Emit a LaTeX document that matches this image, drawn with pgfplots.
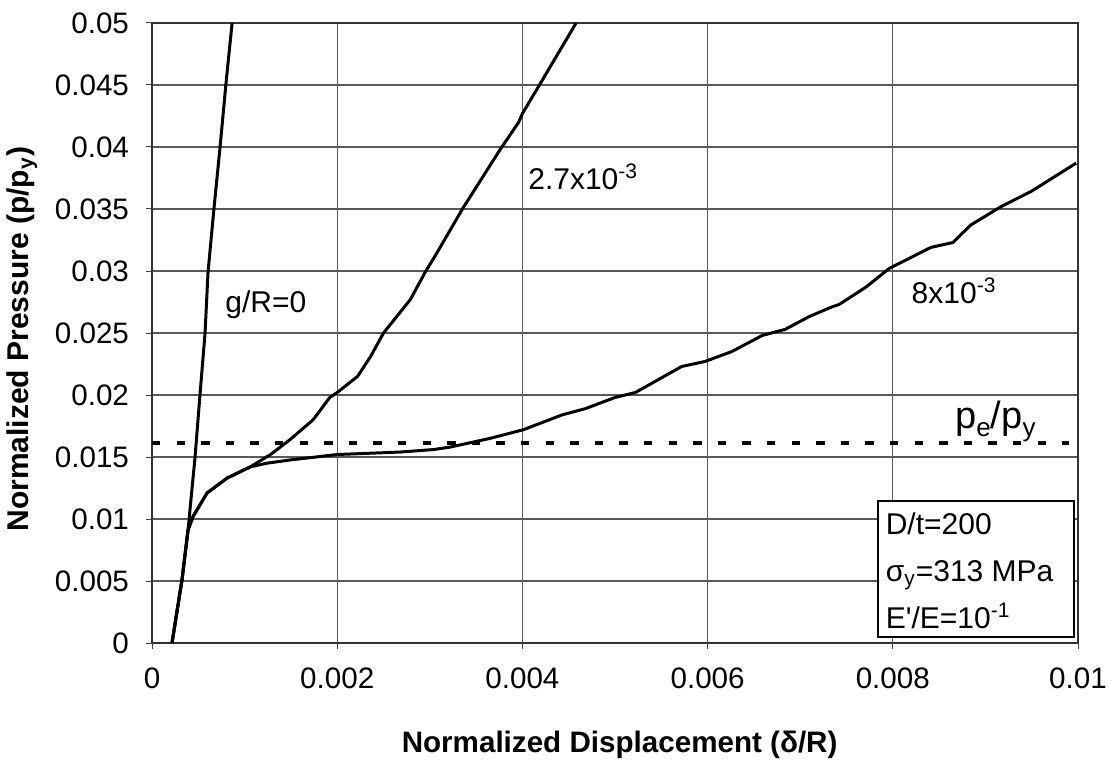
\documentclass[border=0pt]{standalone}
\usepackage{pgfplots}
\pgfplotsset{compat=1.18}
\usepackage{fontspec}
\setmainfont{Liberation Sans}
\begin{document}
\begin{tikzpicture}
\begin{axis}[
  name=ax,
  scale only axis,
  width=463pt, height=310pt,
  xmin=0, xmax=0.01, ymin=0, ymax=0.05,
  xtick={0,0.002,0.004,0.006,0.008,0.01},
  xticklabels={0,0.002,0.004,0.006,0.008,0.01},
  ytick={0,0.005,0.01,0.015,0.02,0.025,0.03,0.035,0.04,0.045,0.05},
  yticklabels={0,0.005,0.01,0.015,0.02,0.025,0.03,0.035,0.04,0.045,0.05},
  scaled ticks=false,
  tick align=outside,
  major tick length=3pt,
  xtick pos=bottom, ytick pos=left,
  grid=major,
  grid style={black!65, line width=0.55pt},
  axis line style={black!80, line width=0.6pt},
  tick style={black!75, line width=0.5pt},
  font=\fontsize{15}{18}\selectfont,
  ticklabel style={font=\fontsize{14.8}{17}\selectfont},
  xticklabel style={yshift=-6pt},
  yticklabel style={xshift=-5pt},
  xlabel={\textbf{Normalized Displacement (δ/R)}},
  ylabel={\textbf{Normalized Pressure (p/p\textsubscript{y})}},
  every axis x label/.style={at={(axis description cs:0.505,-0.1645)}, anchor=center, font=\fontsize{14.8}{17}\selectfont},
  every axis y label/.style={at={(axis description cs:-0.1404,0.49)}, rotate=90, anchor=center, font=\fontsize{15}{17}\selectfont},
]
% g/R = 0
\addplot[black, line width=1.5pt] coordinates {
(0.000216,0) (0.000324,0.0051) (0.000389,0.0091) (0.000465,0.0150) (0.000519,0.0201)
(0.000573,0.0250) (0.000605,0.0299) (0.00067,0.0351) (0.000735,0.0400) (0.0008,0.0452) (0.000865,0.050)
};
% 2.7e-3
\addplot[black, line width=1.5pt] coordinates {
(0.000216,0) (0.000324,0.0051) (0.000389,0.0091) (0.000443,0.0102) (0.000595,0.0121)
(0.000811,0.0133) (0.00106,0.0142) (0.00128,0.0152) (0.00149,0.0164) (0.00174,0.0180)
(0.00192,0.0198) (0.0020,0.0202) (0.00222,0.0215) (0.00236,0.0231) (0.0025,0.0250)
(0.00279,0.0277) (0.00295,0.0299) (0.00308,0.0315) (0.00336,0.0351) (0.00376,0.0398)
(0.00396,0.0420) (0.0040,0.0427) (0.0042,0.0452) (0.00458,0.050)
};
% 8e-3
\addplot[black, line width=1.5pt] coordinates {
(0.000216,0) (0.000324,0.0051) (0.000389,0.0091) (0.000443,0.0102) (0.000595,0.0121)
(0.000811,0.0133) (0.00106,0.0142) (0.00124,0.0145) (0.00149,0.01476) (0.002,0.0152)
(0.00268,0.0154) (0.00304,0.0156) (0.00322,0.0158) (0.00365,0.0165) (0.00401,0.0172)
(0.00443,0.0184) (0.00468,0.0189) (0.005,0.0198) (0.00522,0.0202) (0.00572,0.0223)
(0.00597,0.0227) (0.00626,0.0235) (0.00659,0.0248) (0.00684,0.0253) (0.00709,0.0263)
(0.00734,0.0271) (0.00742,0.0273) (0.00771,0.0287) (0.00796,0.0302) (0.00841,0.0319)
(0.00865,0.0323) (0.00884,0.0337) (0.00917,0.0352) (0.00949,0.0364) (0.00998,0.0387)
};
% p_e/p_y
\addplot[black, line width=2pt, dash pattern=on 4.2pt off 8.1pt] coordinates {(0,0.0161) (0.0099,0.0161)};
\node[anchor=center] at (axis cs:0.00123,0.0273) {g/R=0};
\node[anchor=base west, inner sep=0pt] at (axis cs:0.00406,0.0366) {2.7x10\textsuperscript{-3}};
\node[anchor=base west, inner sep=0pt] at (axis cs:0.0082,0.0274) {8x10\textsuperscript{-3}};
\node[anchor=base west, inner sep=0pt, font=\fontsize{19}{21}\selectfont] at (axis cs:0.00867,0.0173)
  {p\raisebox{-0.22em}{\fontsize{13}{13}\selectfont e}/p\raisebox{-0.22em}{\fontsize{13}{13}\selectfont y}};
\node[draw=black, line width=0.9pt, fill=white, anchor=south east,
      minimum width=98pt, minimum height=68pt, inner sep=0pt] (box) at (axis cs:0.00997,0.0004) {};
\node[anchor=north west, align=left, inner sep=0pt, font=\fontsize{15}{23.5}\selectfont]
  at ([shift={(4pt,-6pt)}]box.north west)
  {D/t=200\\σ\textsubscript{y}=313 MPa\\E\textquotesingle/E=10\textsuperscript{-1}};
\end{axis}
\pgfresetboundingbox
\path ([shift={(-76pt,-58.5pt)}]ax.south west) rectangle ([shift={(16.5pt,11.5pt)}]ax.north east);
\end{tikzpicture}
\end{document}
